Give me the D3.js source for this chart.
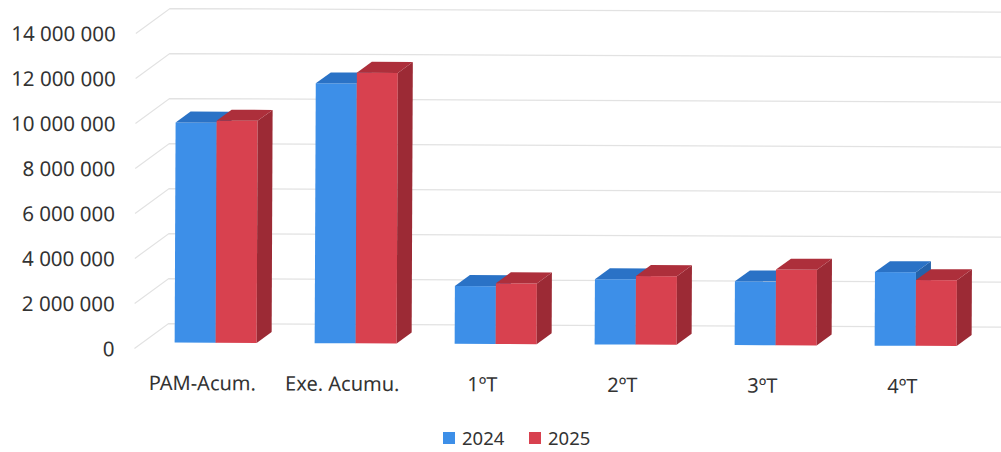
<!DOCTYPE html>
<html lang="es">
<head>
<meta charset="UTF-8">
<title>PAM 2024 / 2025</title>
<style>
    body { margin: 0; background: #fff; }
    svg text { font-family: "Noto Sans", sans-serif; fill: #333; }
</style>
<script src="https://d3js.org/d3.v7.min.js"></script>
</head>
<body>
<div id="chart"></div>
<script>
const categories = ["PAM-Acum.", "Exe. Acumu.", "1ºT", "2ºT", "3ºT", "4ºT"];
const series = ["2024", "2025"];
const values2024 = [9780000, 11550000, 2570000, 2900000, 2830000, 3270000];
const values2025 = [9870000, 12030000, 2700000, 3050000, 3360000, 2920000];
const yTicks = [0, 2000000, 4000000, 6000000, 8000000, 10000000, 12000000, 14000000];

const width = 1001, height = 452;
// oblique depth of the floor / back wall
const depthX = 34, depthY = 25;
// bars sit between these depth fractions
const zFront = 0.24, zBack = 0.68;

const colors = {
    "2024": { front: "#3d8fe8", top: "#2a72c6", side: "#2462aa" },
    "2025": { front: "#d8414f", top: "#ad2f3b", side: "#9c2a35" }
};

const svg = d3.select("#chart").append("svg")
    .attr("width", width)
    .attr("height", height);

// the scan is slightly tilted
const g = svg.append("g").attr("transform", "rotate(0.25, 500, 226)");

const y = d3.scaleLinear().domain([0, 14000000]).range([350, 35]);
const x0 = d3.scaleBand().domain(categories).range([138, 978]);
const x1 = d3.scaleBand().domain(series).range([0, 82]);
const groupOffset = (x0.bandwidth() - 82) / 2;

const fmt = d => d3.format(",")(d).replace(/,/g, " ");

// gridlines: short diagonal on the floor side, then along the back wall
const grid = g.append("g");
yTicks.forEach(t => {
    grid.append("path")
        .attr("d", `M${x0.range()[0] - 3},${y(t)} L${x0.range()[0] - 3 + depthX},${y(t) - depthY} L${width + 5},${y(t) - depthY}`)
        .attr("fill", "none")
        .attr("stroke", "#e2e2e2")
        .attr("stroke-width", 1.2);
});

// y axis labels
g.append("g").selectAll("text")
    .data(yTicks)
    .enter().append("text")
    .attr("x", 115)
    .attr("y", d => y(d))
    .attr("text-anchor", "end")
    .attr("dominant-baseline", "central")
    .attr("font-size", "20.5px")
    .text(d => fmt(d));

// bars
const rows = categories.map((c, i) => ({ cat: c, vals: [values2024[i], values2025[i]] }));
const bars = g.append("g");
rows.forEach(r => {
    series.forEach((s, j) => {
        const v = r.vals[j];
        const bx = x0(r.cat) + groupOffset + x1(s) + zFront * depthX;
        const bw = x1.bandwidth();
        const yb = y(0) - zFront * depthY;
        const yt = y(v) - zFront * depthY;
        const dx = (zBack - zFront) * depthX;
        const dy = (zBack - zFront) * depthY;
        const c = colors[s];
        bars.append("rect")
            .attr("x", bx).attr("y", yt)
            .attr("width", bw).attr("height", yb - yt)
            .attr("fill", c.front);
        bars.append("polygon")
            .attr("points", [[bx + bw, yt], [bx + bw + dx, yt - dy], [bx + bw + dx, yb - dy], [bx + bw, yb]].join(" "))
            .attr("fill", c.side);
        bars.append("polygon")
            .attr("points", [[bx, yt], [bx + dx, yt - dy], [bx + bw + dx, yt - dy], [bx + bw, yt]].join(" "))
            .attr("fill", c.top);
    });
});

// category labels
g.append("g").selectAll("text")
    .data(categories)
    .enter().append("text")
    .attr("x", d => x0(d) + x0.bandwidth() / 2 - 5)
    .attr("y", 384)
    .attr("text-anchor", "middle")
    .attr("dominant-baseline", "central")
    .attr("font-size", "20px")
    .text(d => d);

// legend (kept unrotated so it stays inside the frame)
const legend = svg.append("g");
const legendX = [443, 529];
series.forEach((s, i) => {
    legend.append("rect")
        .attr("x", legendX[i]).attr("y", 432)
        .attr("width", 12).attr("height", 12)
        .attr("fill", colors[s].front);
    legend.append("text")
        .attr("x", legendX[i] + 19).attr("y", 437)
        .attr("dominant-baseline", "central")
        .attr("font-size", "18.5px")
        .text(s);
});
</script>
</body>
</html>
